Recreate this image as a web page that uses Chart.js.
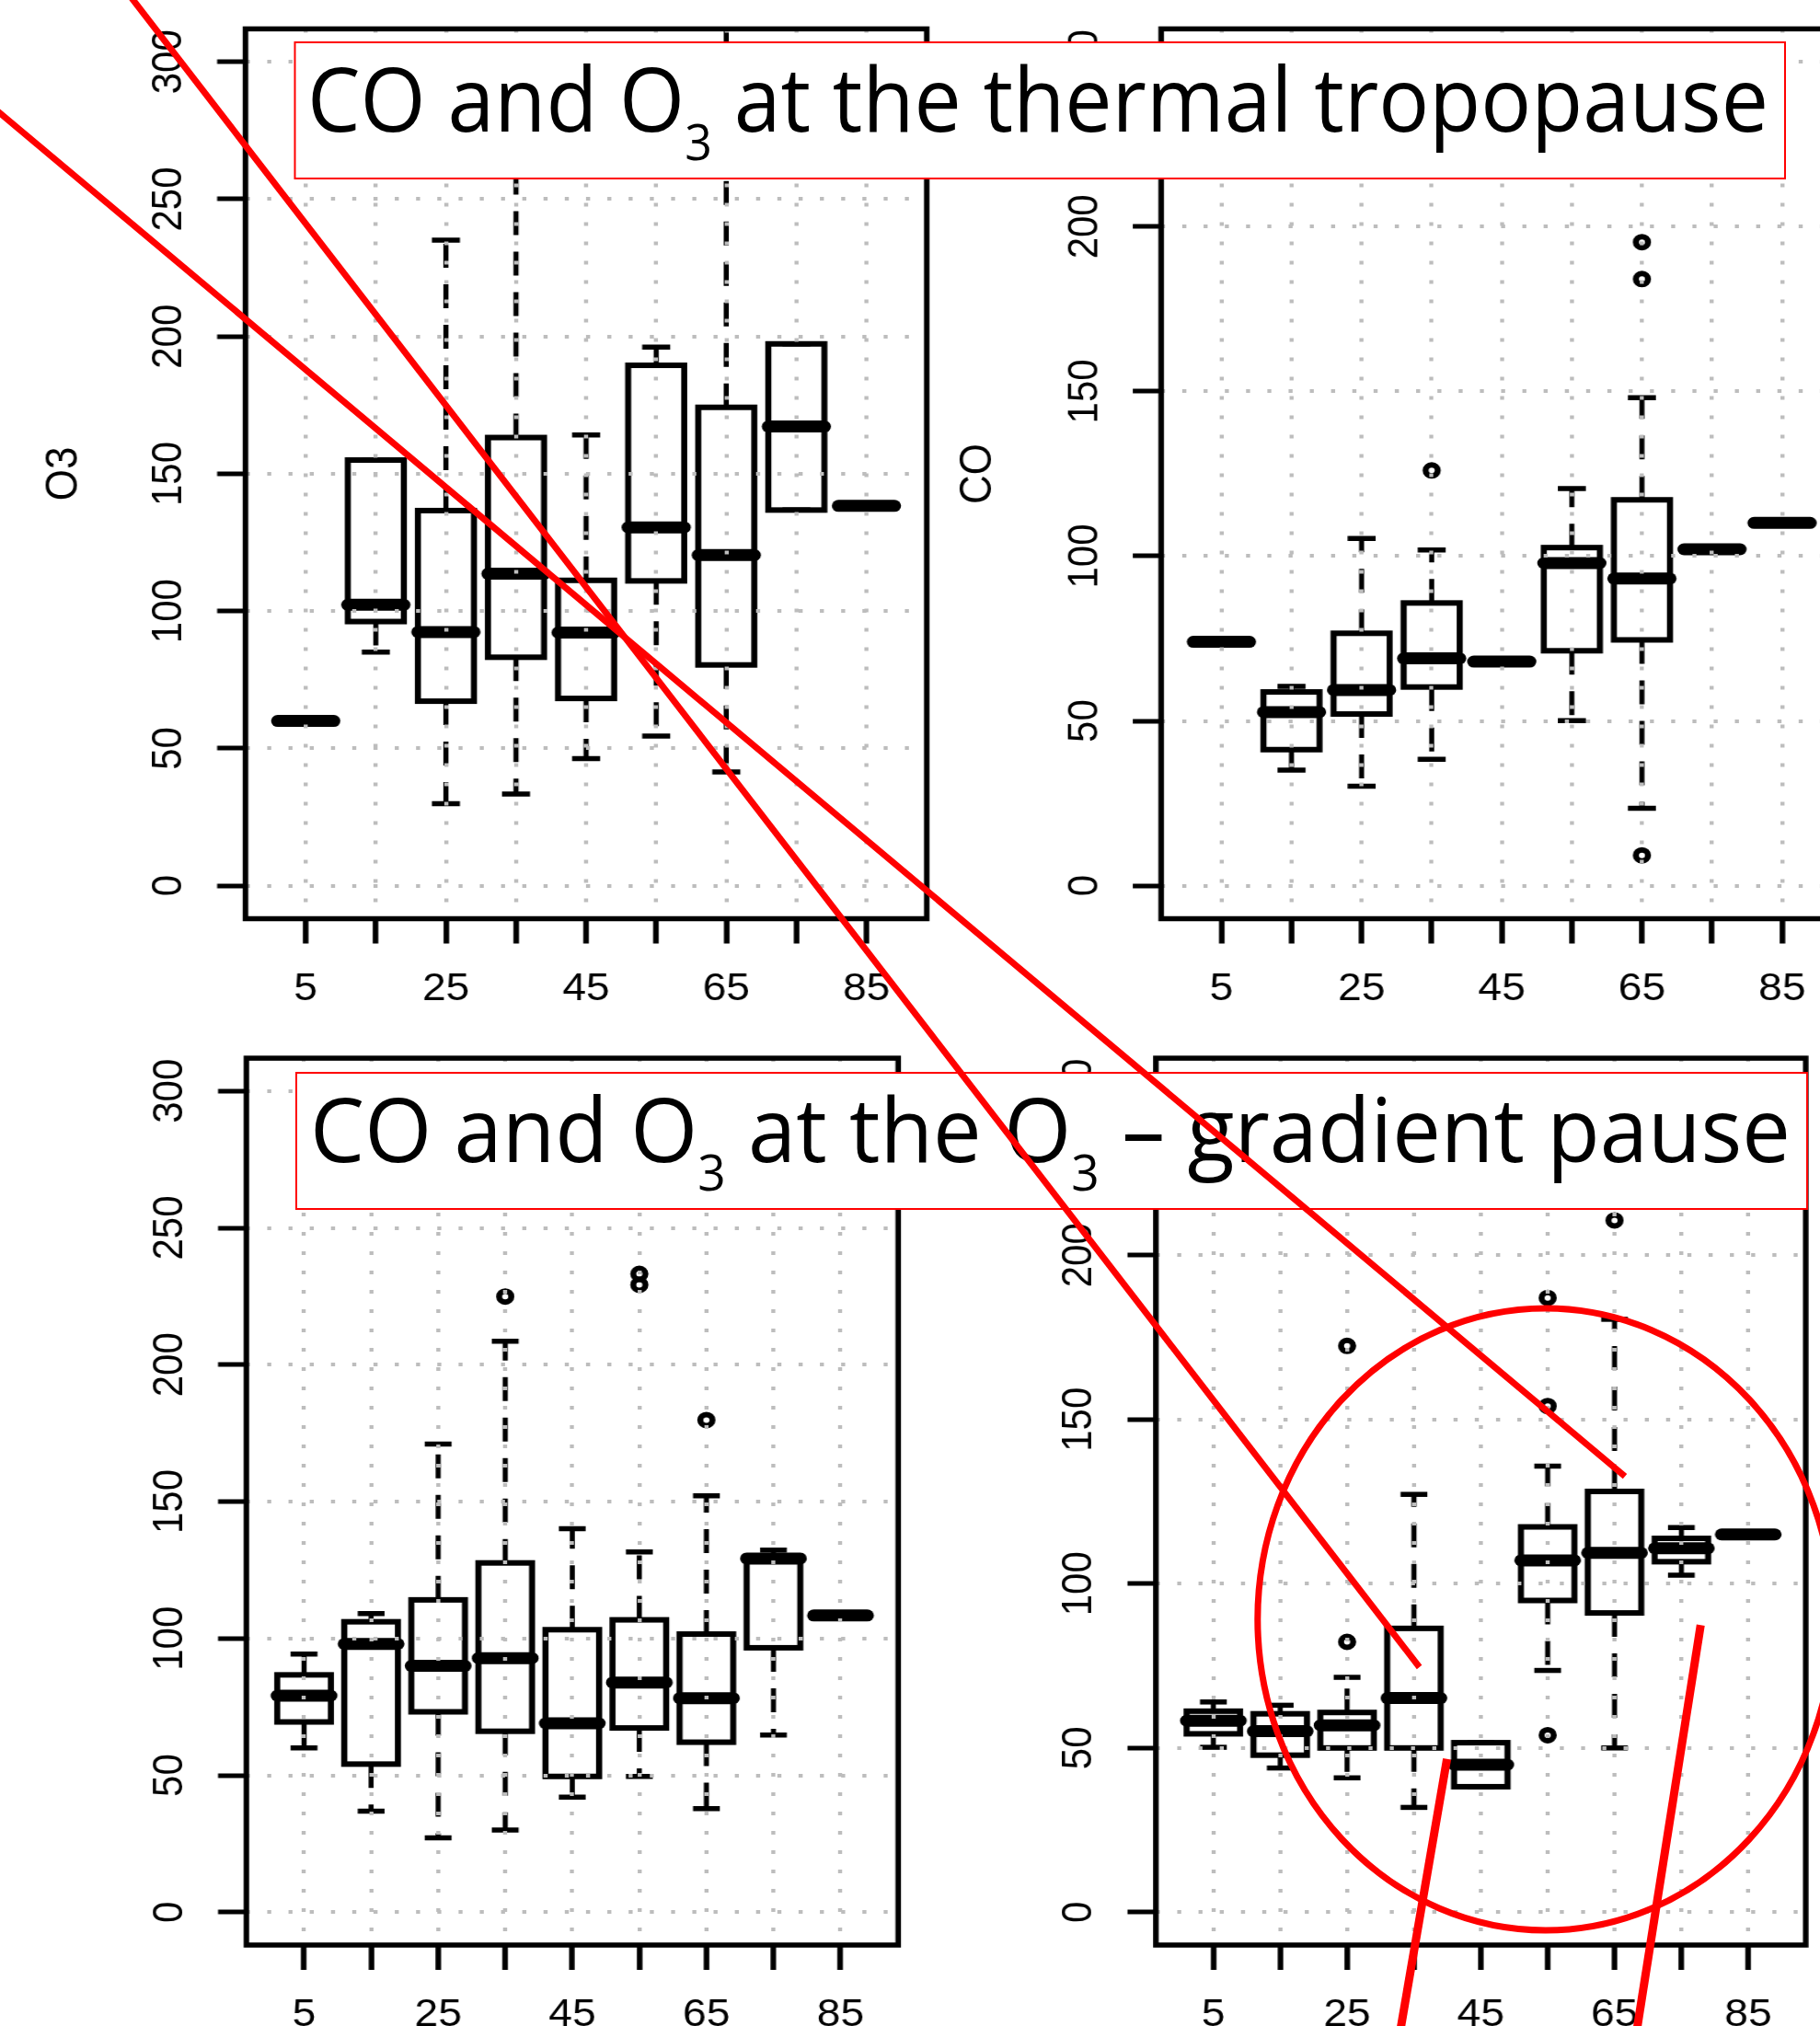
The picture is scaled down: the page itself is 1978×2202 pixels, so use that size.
<!DOCTYPE html>
<html>
<head>
<meta charset="utf-8">
<title>CO and O3 boxplots</title>
<script src="https://cdn.jsdelivr.net/npm/chart.js@4.4.1/dist/chart.umd.min.js"></script>
<style>
    html, body { margin: 0; padding: 0; background: #fff; }
    body { width: 1978px; height: 2202px; overflow: hidden; position: relative; }
    /* the R figure was stretched sideways a little, so are the canvases */
    canvas.panel { position: absolute; transform: scaleX(1.1); transform-origin: 0 0; }
    #notes { position: absolute; left: 0; top: 0; pointer-events: none; }
</style>
</head>
<body>
<canvas id="o3Thermal" class="panel" width="950" height="1110" style="left:0px;top:0px"></canvas>
<canvas id="coThermal" class="panel" width="950" height="1110" style="left:1000px;top:0px"></canvas>
<canvas id="o3Gradient" class="panel" width="950" height="1100" style="left:0px;top:1120px"></canvas>
<canvas id="coGradient" class="panel" width="950" height="1100" style="left:1000px;top:1120px"></canvas>

<svg id="notes" width="1978" height="2202" xmlns="http://www.w3.org/2000/svg">
    <rect x="320.5" y="46" width="1619.5" height="148" fill="#fff" stroke="#ff0000" stroke-width="2"/>
    <text x="334" y="143" font-family="Open Sans" font-size="97" fill="#000"
          textLength="1588" lengthAdjust="spacingAndGlyphs">CO and O<tspan font-size="55" dy="31">3</tspan><tspan dy="-31"> at the thermal tropopause</tspan></text>

    <rect x="322" y="1166" width="1642" height="148" fill="#fff" stroke="#ff0000" stroke-width="2"/>
    <text x="337" y="1263" font-family="Open Sans" font-size="97" fill="#000"
          textLength="1609" lengthAdjust="spacingAndGlyphs">CO and O<tspan font-size="55" dy="31">3</tspan><tspan dy="-31"> at the O</tspan><tspan font-size="55" dy="31">3</tspan><tspan dy="-31"> – gradient pause</tspan></text>

    <g stroke="#ff0000" fill="none">
        <line x1="137" y1="-10" x2="1542.6" y2="1812" stroke-width="7"/>
        <line x1="-10" y1="114.6" x2="1766" y2="1604.6" stroke-width="7"/>
        <line x1="1572.6" y1="1911.7" x2="1520.5" y2="2215" stroke-width="9"/>
        <line x1="1848.3" y1="1766.3" x2="1777.6" y2="2215" stroke-width="9"/>
        <ellipse cx="1679.8" cy="1760" rx="313" ry="338" stroke-width="7"/>
    </g>
</svg>

<script>
// ---- data ----
const boxPositions = [5, 15, 25, 35, 45, 55, 65, 75, 85];
const xTickLabels = ["5", "", "25", "", "45", "", "65", "", "85"];
const o3TickValues = [0, 50, 100, 150, 200, 250, 300];
const coTickValues = [0, 50, 100, 150, 200, 250];

// each row: [lower whisker, Q1, median, Q3, upper whisker]
const o3Thermal = [
    [60, 60, 60, 60, 60],
    [85.1, 96.2, 102.3, 155, 155],
    [29.9, 67.2, 92.4, 136.6, 235.1],
    [33.4, 83.2, 113.6, 163.2, 285],
    [46.3, 68.2, 92.2, 111.2, 164.1],
    [54.5, 111, 130.5, 189.5, 196.1],
    [41.4, 80.4, 120.4, 174.2, 330],
    [136.8, 136.8, 167.2, 197.3, 197.3],
    [138.3, 138.3, 138.3, 138.3, 138.3],
];
const coThermal = [
    [74, 74, 74, 74, 74],
    [35.1, 41.3, 52.7, 58.8, 60.5],
    [30.2, 52.1, 59.4, 76.6, 105.4],
    [38.4, 60.3, 69.0, 85.8, 101.9],
    [68, 68, 68, 68, 68],
    [50.1, 71.3, 97.9, 102.6, 120.5],
    [23.5, 74.6, 93.2, 117.1, 148.1],
    [102.1, 102.1, 102.1, 102.1, 102.1],
    [110.1, 110.1, 110.1, 110.1, 110.1],
];
const o3Gradient = [
    [60.0, 69.5, 79.1, 86.7, 94.3],
    [36.9, 54.1, 98.0, 106.1, 109.1],
    [27.2, 73.2, 90.0, 114.1, 171.0],
    [30.0, 66.1, 92.8, 127.6, 208.6],
    [42.0, 49.6, 69.0, 103.2, 140.1],
    [49.6, 67.3, 83.9, 106.8, 131.6],
    [37.8, 62.1, 78.2, 101.6, 152.1],
    [64.7, 96.6, 129.2, 130.2, 132.3],
    [108.4, 108.4, 108.4, 108.4, 108.4],
];
const coGradient = [
    [50.2, 54.3, 58.3, 61.2, 64.0],
    [43.9, 47.8, 55.1, 60.4, 63.0],
    [40.9, 50.0, 56.9, 60.8, 71.5],
    [31.9, 50.0, 65.2, 86.4, 127.2],
    [38.2, 38.2, 44.9, 51.6, 51.6],
    [73.6, 94.9, 107.1, 117.3, 135.8],
    [50.0, 91.1, 109.4, 128.1, 180.5],
    [102.6, 106.7, 110.8, 113.8, 117.1],
    [115, 115, 115, 115, 115],
];

// outliers: [position, value]
const o3ThermalOutliers = [];
const coThermalOutliers = [[35, 126.0], [65, 195.3], [65, 184.1], [65, 9.2]];
const o3GradientOutliers = [[35, 224.9], [55, 233.2], [55, 229.2], [65, 179.8]];
const coGradientOutliers = [[25, 82.3], [25, 172.4], [55, 187.0], [55, 154.1], [55, 53.9], [65, 210.6]];

// ---- look ----
const TICK_FONT = { family: "Liberation Sans", size: 42, lineHeight: 1.2 };
const TITLE_FONT = { family: "Liberation Sans", size: 44, lineHeight: 1.2 };
const GRID_COLOR = "#bdbdbd";
const X_AXIS_H = 100;

// plot box of each panel, in canvas pixels (before the sideways stretch)
const panels = [
    { id: "o3Thermal", stats: o3Thermal, outliers: o3ThermalOutliers, yTicks: o3TickValues,
      yMin: -12, yMax: 312, title: "O3", titleCenter: 63.6,
      area: { left: 242.5, right: 915.6, top: 31.4, bottom: 998.5 } },
    { id: "coThermal", stats: coThermal, outliers: coThermalOutliers, yTicks: coTickValues,
      yMin: -10, yMax: 260, title: "CO", titleCenter: 58.2,
      area: { left: 238.1, right: 911.2, top: 31.4, bottom: 998.5 } },
    { id: "o3Gradient", stats: o3Gradient, outliers: o3GradientOutliers, yTicks: o3TickValues,
      yMin: -12, yMax: 312, title: "", titleCenter: 0,
      area: { left: 243.4, right: 887.4, top: 30.1, bottom: 994 } },
    { id: "coGradient", stats: coGradient, outliers: coGradientOutliers, yTicks: coTickValues,
      yMin: -10, yMax: 260, title: "", titleCenter: 0,
      area: { left: 232.9, right: 875.0, top: 30.1, bottom: 994 } },
];

// R style boxplots drawn through the chart scales
const boxplotPlugin = {
    id: "rBoxplot",
    beforeDatasetsDraw(chart, args, opts) {
        const { ctx, chartArea: a, scales: { x, y } } = chart;
        const seg = (x1, y1, x2, y2) => {
            ctx.beginPath();
            ctx.moveTo(x1, y1);
            ctx.lineTo(x2, y2);
            ctx.stroke();
        };
        ctx.save();
        ctx.beginPath();
        ctx.rect(a.left, a.top, a.right - a.left, a.bottom - a.top);
        ctx.clip();
        ctx.strokeStyle = "#000";
        opts.stats.forEach((row, i) => {
            const [lo, q1, med, q3, hi] = row.map((v) => y.getPixelForValue(v));
            const at = opts.positions[i];
            const xc = x.getPixelForValue(at);
            const bl = x.getPixelForValue(at - 4);
            const br = x.getPixelForValue(at + 4);
            const sl = x.getPixelForValue(at - 2);
            const sr = x.getPixelForValue(at + 2);

            // whiskers
            ctx.lineWidth = 5;
            ctx.lineCap = "butt";
            ctx.setLineDash([26, 18]);
            if (hi < q3) seg(xc, q3, xc, hi);
            if (lo > q1) seg(xc, q1, xc, lo);
            ctx.setLineDash([]);
            // staples
            ctx.lineWidth = 5.5;
            seg(sl, hi, sr, hi);
            seg(sl, lo, sr, lo);
            // box
            ctx.lineWidth = 6;
            if (q1 - q3 > 0.5) ctx.strokeRect(bl, q3, br - bl, q1 - q3);
            // median
            ctx.lineWidth = 13;
            ctx.lineCap = "round";
            seg(bl, med, br, med);
        });
        ctx.restore();
    },
    afterDraw(chart) {
        const { ctx, chartArea: a } = chart;
        ctx.save();
        ctx.strokeStyle = "#000";
        ctx.lineWidth = 5.5;
        ctx.strokeRect(a.left, a.top, a.right - a.left, a.bottom - a.top);
        ctx.restore();
    },
};

function noPadding(scale) {
    scale.paddingLeft = 0;
    scale.paddingRight = 0;
    scale.paddingTop = 0;
    scale.paddingBottom = 0;
}

panels.forEach((p) => {
    const canvas = document.getElementById(p.id);
    const W = canvas.width;
    const H = canvas.height;

    new Chart(canvas.getContext("2d"), {
        type: "scatter",
        data: {
            datasets: [
                {
                    data: p.outliers.map(([at, v]) => ({ x: at, y: v })),
                    pointStyle: "circle",
                    pointRadius: 6,
                    pointBorderWidth: 6,
                    pointBorderColor: "#000",
                    pointBackgroundColor: "rgba(0,0,0,0)",
                    showLine: false,
                },
            ],
        },
        options: {
            responsive: false,
            animation: false,
            devicePixelRatio: 1,
            events: [],
            layout: {
                padding: {
                    left: 0,
                    top: p.area.top,
                    right: W - p.area.right,
                    bottom: H - p.area.bottom - X_AXIS_H,
                },
            },
            plugins: {
                legend: { display: false },
                tooltip: { enabled: false },
                rBoxplot: { stats: p.stats, positions: boxPositions },
            },
            scales: {
                x: {
                    type: "linear",
                    min: -3.6,
                    max: 93.6,
                    bounds: "data",
                    afterBuildTicks: (s) => {
                        s.ticks = boxPositions.map((v) => ({ value: v }));
                    },
                    afterFit: (s) => {
                        s.height = X_AXIS_H;
                        noPadding(s);
                    },
                    grid: {
                        color: GRID_COLOR,
                        lineWidth: 4,
                        z: 1,
                        drawTicks: true,
                        tickLength: 27,
                        tickWidth: 5.5,
                        tickColor: "#000",
                    },
                    border: { display: false, dash: [4, 17] },
                    ticks: {
                        autoSkip: false,
                        minRotation: 0,
                        maxRotation: 0,
                        padding: 24.5,
                        color: "#000",
                        font: TICK_FONT,
                        callback: (v, i) => xTickLabels[i],
                    },
                },
                y: {
                    type: "linear",
                    min: p.yMin,
                    max: p.yMax,
                    bounds: "data",
                    afterBuildTicks: (s) => {
                        s.ticks = p.yTicks.map((v) => ({ value: v }));
                    },
                    afterFit: (s) => {
                        s.width = p.area.left;
                        noPadding(s);
                    },
                    grid: {
                        color: GRID_COLOR,
                        lineWidth: 4,
                        z: 1,
                        drawTicks: true,
                        tickLength: 28,
                        tickWidth: 5,
                        tickColor: "#000",
                    },
                    border: { display: false, dash: [4, 17] },
                    ticks: {
                        minRotation: 90,
                        maxRotation: 90,
                        crossAlign: "center",
                        padding: 12,
                        color: "#000",
                        font: TICK_FONT,
                        callback: (v) => String(v),
                    },
                    title: {
                        display: p.title !== "",
                        text: p.title,
                        color: "#000",
                        font: TITLE_FONT,
                        padding: { top: Math.max(p.titleCenter - 26.4, 0), bottom: 0 },
                    },
                },
            },
        },
        plugins: [boxplotPlugin],
    });
});
</script>
</body>
</html>
